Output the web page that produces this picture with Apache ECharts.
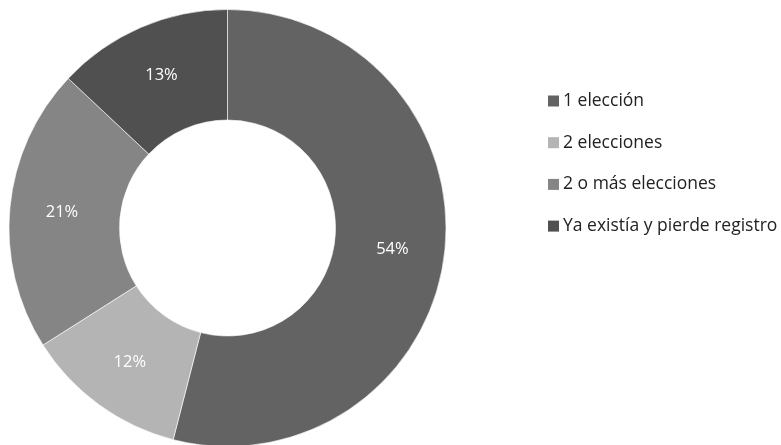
<!DOCTYPE html>
<html>
<head>
<meta charset="utf-8">
<script src="https://cdn.jsdelivr.net/npm/echarts@6/dist/echarts.min.js"></script>
<style>html,body{margin:0;padding:0;background:#fff;}#c{width:781px;height:445px;}</style>
</head>
<body>
<div id="c"></div>
<script>
const categories = ['1 elección', '2 elecciones', '2 o más elecciones', 'Ya existía y pierde registro'];
const values = [54, 12, 21, 13];
const colors = ['#636363', '#b4b4b4', '#858585', '#505050'];

const FONT = '"Open Sans", Lato, sans-serif';
const chart = echarts.init(document.getElementById('c'));
chart.setOption({
  animation: false,
  color: colors,
  textStyle: { fontFamily: FONT },
  legend: {
    orient: 'vertical',
    left: 548,
    top: 91,
    padding: 0,
    itemWidth: 11,
    itemHeight: 11,
    itemGap: 21.7,
    icon: 'rect',
    itemStyle: { borderWidth: 0 },
    textStyle: { fontSize: 17.5, color: '#222', lineHeight: 20, fontFamily: FONT, padding: [0, 0, 0, -1] },
    data: categories
  },
  series: [{
    type: 'pie',
    center: [227.5, 228],
    radius: [108, 218.5],
    startAngle: 90,
    clockwise: true,
    itemStyle: { borderColor: '#ffffff', borderWidth: 0.6 },
    label: {
      show: true,
      position: 'inside',
      color: '#ffffff',
      fontSize: 16.5,
      fontFamily: FONT,
      formatter: p => p.value + '%'
    },
    labelLine: { show: false },
    emphasis: { disabled: true },
    data: categories.map((n, i) => ({ name: n, value: values[i] }))
  }]
});
</script>
</body>
</html>
